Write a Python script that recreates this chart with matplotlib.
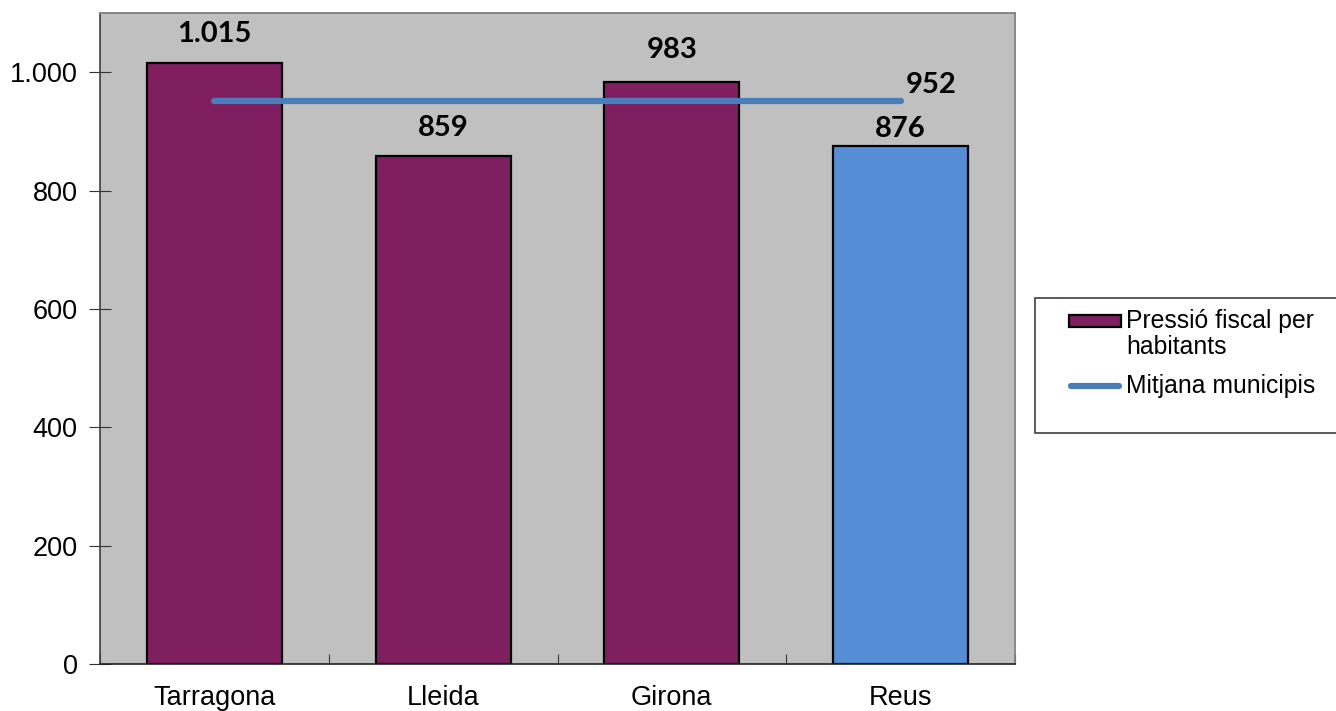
import matplotlib.pyplot as plt
from matplotlib.patches import Rectangle
from matplotlib.ticker import FuncFormatter, MultipleLocator
from matplotlib.lines import Line2D

# data
ciutats = ['Tarragona', 'Lleida', 'Girona', 'Reus']
pressio = [1015, 859, 983, 876]
mitjana = 952

colors = ['#7f1f5f', '#7f1f5f', '#7f1f5f', '#558ed5']
label_off = [21, 20, 23, 12]  # points above bar top

plt.rcParams['font.family'] = ['Liberation Sans', 'DejaVu Sans']

W, H = 1336, 711
fig = plt.figure(figsize=(W / 100, H / 100), dpi=100)
ax = fig.add_axes([0.0749, 0.0661, 0.6848, 0.9156])
ax.set_facecolor('#c0c0c0')

x = list(range(len(ciutats)))
ax.bar(x, pressio, width=0.59, color=colors, edgecolor='black', linewidth=1.6, zorder=2)
ax.plot([x[0], x[-1]], [mitjana, mitjana], color='#4a7ebb', lw=4.5,
        solid_capstyle='round', zorder=3)

fmt = lambda v: f'{v:,.0f}'.replace(',', '.')
for xi, v, off in zip(x, pressio, label_off):
    ax.annotate(fmt(v), (xi, v), xytext=(0, off), textcoords='offset points',
                ha='center', va='center', fontsize=21, fontweight='bold',
                family=['Lato', 'DejaVu Sans'])
ax.annotate(fmt(mitjana), (x[-1], mitjana), xytext=(22, 11), textcoords='offset points',
            ha='center', va='center', fontsize=21, fontweight='bold',
            family=['Lato', 'DejaVu Sans'])

ax.set_xlim(-0.5, 3.5)
ax.set_ylim(0, 1100)
ax.yaxis.set_major_locator(MultipleLocator(200))
ax.yaxis.set_major_formatter(FuncFormatter(lambda v, p: fmt(v)))
ax.set_xticks([-0.5, 0.5, 1.5, 2.5, 3.5])
ax.set_xticklabels([])
ax.set_xticks(x, minor=True)
ax.set_xticklabels(ciutats, minor=True, fontsize=19.5)
ax.tick_params(axis='x', which='minor', length=0, pad=15)
ax.tick_params(axis='x', which='major', direction='in', length=7, color='#333333')
ax.tick_params(axis='y', direction='inout', length=16, labelsize=19.5, pad=8, color='#333333')

for s in ['top', 'right']:
    ax.spines[s].set_color('#808080')
    ax.spines[s].set_linewidth(1.3)
ax.spines['left'].set_color('#404040')
ax.spines['bottom'].set_color('#222222')
ax.spines['left'].set_linewidth(1.2)
ax.spines['bottom'].set_linewidth(1.2)

# legend (drawn by hand, Excel style)
def fx(px):
    return px / W

def fy(py):
    return 1 - py / H

fig.patches.append(Rectangle((fx(1035), fy(433)), 0.3, (433 - 298) / H,
                             transform=fig.transFigure, facecolor='white',
                             edgecolor='#404040', linewidth=1.2))
fig.patches.append(Rectangle((fx(1069), fy(327)), (1121 - 1069) / W, 12 / H,
                             transform=fig.transFigure, facecolor='#7f1f5f',
                             edgecolor='black', linewidth=1.6))
fig.lines.append(Line2D([fx(1071), fx(1119)], [fy(386), fy(386)], transform=fig.transFigure,
                        color='#4a7ebb', lw=4.5, solid_capstyle='round'))
fig.text(fx(1126), fy(322), 'Pressió fiscal per\nhabitants', fontsize=17.8,
         va='top', ha='left', linespacing=1.1,
         transform=fig.transFigure).set_y(fy(309))
fig.text(fx(1126), fy(386), 'Mitjana municipis', fontsize=17.8, va='center', ha='left')

fig.savefig('out.png', dpi=100)
